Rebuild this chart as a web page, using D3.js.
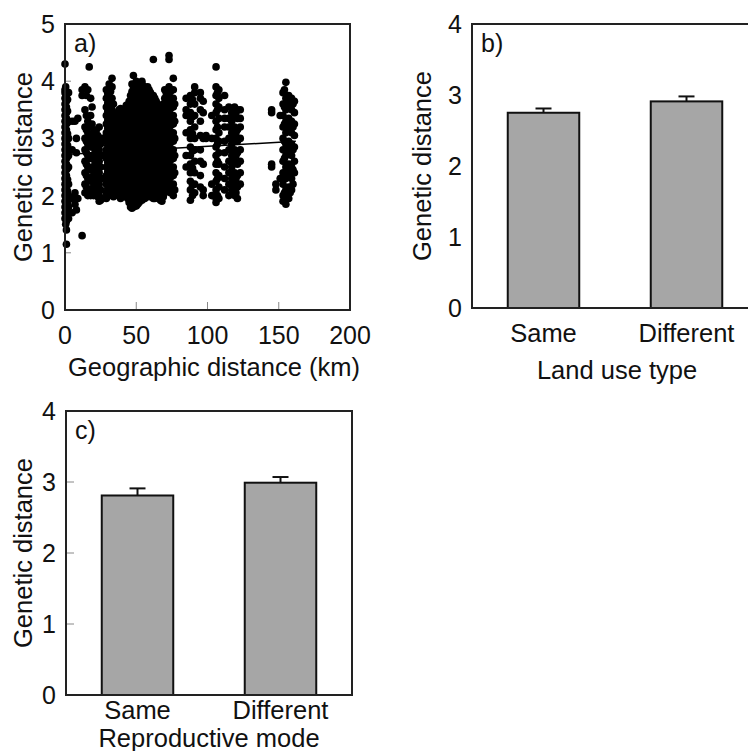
<!DOCTYPE html>
<html><head><meta charset="utf-8">
<script src="https://cdn.jsdelivr.net/npm/d3@7"></script>
<style>body{margin:0;background:#fff}svg{display:block}text{font-family:"Liberation Sans",Arial,sans-serif;fill:#111}</style>
</head><body>
<svg id="c" width="748" height="751"></svg>
<script>
// ---- Panel a data: columns of points (geographic distance km, genetic distance values)
const scatterX = [0,1,2.5,5,7,8,9,12,14,16,17,18,20,22,24,26,29,31,33,36,38,40,42,44,46,48,50,52,54,56,58,60,62,64,66,68,70,73,76,85,88,91,95,97,99,103,106,108,112,115,117,119,121,123,145,148,151,153,155,157,159,161,
  0.5,1.8,15,19,21,23,25,30,32,34,35,37,39,41,43,45,47,49,51,53,55,57,59,61,63,65,67,69,71,74,77,89.5,107,120,154,156,158,160];
const scatterY = [
 [4.30,3.85,3.80,3.70,3.60,3.50,3.40,3.30,3.20,3.10,3.00,2.90,2.80,2.70,2.60,2.50,2.40,2.30,2.20,2.10,2.00,1.90,1.80,1.70,1.60],
 [3.75,3.65,3.55,3.45,3.35,3.25,3.15,3.05,2.95,2.85,2.75,2.65,2.55,2.45,2.35,2.25,2.15,2.05,1.95,1.85,1.75,1.65,1.55,1.40,1.15],
 [3.80,3.30,3.00,2.70,2.50,2.20,2.00,1.80,1.60],
 [3.30,2.80,1.95,1.70],
 [3.30,2.05,1.85],
 [3.00,1.75,2.75],
 [1.95,3.35],
 [1.30,3.85,3.75],
 [3.90,3.50,3.20,3.00,2.80,2.60,2.40,2.20,2.05],
 [3.85,3.30,3.10,2.90,2.70,2.50,2.30,2.10,2.00],
 [4.25],
 [3.70,3.40,3.20,3.00,2.85,2.65,2.45,2.25,2.00],
 [3.10,2.90,2.70,2.50,2.35,2.15,2.00],
 [3.15,2.95,2.75,2.55,2.40,2.20,2.05],
 [3.20,3.00,2.80,2.60,2.40,2.20,2.00,1.90],
 [3.00,2.70,2.30,1.95],
 [3.85,3.70,3.55,3.40,3.25,3.10,2.95,2.80,2.65,2.50,2.35,2.20,2.05,1.95],
 [3.95,3.75,3.60,3.45,3.30,3.15,3.00,2.85,2.70,2.55,2.40,2.25,2.10,2.00],
 [4.05,3.90,3.70,3.50,3.35,3.20,3.05,2.90,2.75,2.60,2.45,2.30,2.15,2.05],
 [3.40,3.25,3.10,2.95,2.80,2.65,2.50,2.35,2.20,2.05],
 [3.50,3.35,3.20,3.05,2.90,2.75,2.60,2.45,2.30,2.15,2.00],
 [3.45,3.30,3.15,3.00,2.85,2.70,2.55,2.40,2.25,2.10,2.00],
 [3.50,3.35,3.20,3.05,2.90,2.75,2.60,2.45,2.30,2.15,2.00],
 [3.55,3.40,3.25,3.10,2.95,2.80,2.65,2.50,2.35,2.20,2.05,1.95],
 [3.75,3.60,3.45,3.30,3.15,3.00,2.85,2.70,2.55,2.40,2.25,2.10,1.95,1.80],
 [4.10,3.90,3.75,3.60,3.45,3.30,3.15,3.00,2.85,2.70,2.55,2.40,2.25,2.10,1.95,1.80],
 [4.00,3.85,3.70,3.55,3.40,3.25,3.10,2.95,2.80,2.65,2.50,2.35,2.20,2.05,1.90,1.82],
 [3.95,3.80,3.65,3.50,3.35,3.20,3.05,2.90,2.75,2.60,2.45,2.30,2.15,2.00,1.88],
 [4.00,3.85,3.70,3.55,3.40,3.25,3.10,2.95,2.80,2.65,2.50,2.35,2.20,2.05,1.92],
 [3.85,3.70,3.55,3.40,3.25,3.10,2.95,2.80,2.65,2.50,2.35,2.20,2.05,1.95],
 [3.90,3.75,3.60,3.45,3.30,3.15,3.00,2.85,2.70,2.55,2.40,2.25,2.10,2.00],
 [3.80,3.65,3.50,3.35,3.20,3.05,2.90,2.75,2.60,2.45,2.30,2.15,2.00],
 [4.38,3.75,3.60,3.45,3.30,3.15,3.00,2.85,2.70,2.55,2.40,2.25,2.10,1.95],
 [3.65,3.50,3.35,3.20,3.05,2.90,2.75,2.60,2.45,2.30,2.15,2.00],
 [3.55,3.40,3.25,3.10,2.95,2.80,2.65,2.50,2.35,2.20,2.05,1.95],
 [3.50,3.35,3.20,3.05,2.90,2.75,2.60,2.45,2.30,2.15,2.00,1.90],
 [3.85,3.70,3.55,3.40,3.25,3.10,2.95,2.80,2.65,2.50,2.35,2.20,2.05],
 [4.45,4.38,3.90,3.75,3.60,3.45,3.30,3.15,3.00,2.85,2.70,2.55,2.40,2.25,2.10],
 [4.05,3.85,3.70,3.55,3.40,3.25,3.10,2.95,2.80,2.65,2.50,2.35,2.20,2.00],
 [3.70,3.50,3.40,3.10,2.70,2.50],
 [3.75,3.60,3.45,3.30,3.15,3.00,2.85,2.70,2.55,2.40,2.25,2.10,1.92],
 [3.90,3.80,3.60,3.40,3.20,3.00,2.80,2.60,2.40,2.20,2.05],
 [3.80,3.70,3.50,3.30,3.05,2.80,2.60,2.35,2.15],
 [3.65,3.45,3.00,2.55,2.10,2.00],
 [3.05,3.00],
 [3.40,3.00,2.20,2.00],
 [4.25,3.90,3.75,3.60,3.45,3.30,3.15,3.00,2.85,2.70,2.55,2.40,2.25,2.10,1.95,1.88],
 [3.85,3.70,3.55,3.35,3.10,2.95,2.75,2.55,2.35,2.15,1.95],
 [3.75,3.50,3.35,3.20,2.95,2.75,2.50,2.30,2.10],
 [3.55,3.35,3.20,3.00,2.80,2.60,2.40,2.20,2.00],
 [3.45,3.30,3.10,2.90,2.70,2.50,2.30,2.10],
 [3.55,3.40,3.20,3.00,2.80,2.60,2.40,2.20,2.00],
 [3.50,3.35,3.15,2.95,2.75,2.55,2.35,2.15,1.95],
 [3.50,3.35,3.20,3.00,2.80,2.60,2.40,2.20],
 [3.45,3.50,2.55,2.50],
 [2.20,2.10],
 [3.40,2.30],
 [3.80,3.60,3.40,3.20,3.00,2.80,2.60,2.40,2.20,2.00,1.90],
 [3.98,3.70,3.50,3.30,3.10,2.90,2.70,2.50,2.30,2.10,1.85],
 [3.75,3.55,3.35,3.15,2.95,2.75,2.55,2.35,2.15,1.95],
 [3.70,3.50,3.30,3.10,2.90,2.70,2.50,2.30,2.10],
 [3.65,3.45,3.25,3.05,2.85,2.60,2.40],
 // second set of columns (between the ones above)
 [3.90,3.72,3.52,3.32,3.12,2.92,2.72,2.52,2.32,2.12,1.92,1.72,1.50],
 [3.68,3.48,3.28,3.08,2.88,2.68,2.48,2.28,2.08,1.88,1.68],
 [3.75,3.40,3.15,2.95,2.75,2.55,2.35,2.15],
 [3.55,3.25,3.05,2.90,2.70,2.50,2.30,2.10],
 [3.00,2.80,2.60,2.45,2.25,2.05],
 [3.05,2.85,2.65,2.48,2.30,2.12,1.98],
 [2.90,2.50,2.10,1.92],
 [3.78,3.62,3.48,3.32,3.18,3.02,2.88,2.72,2.58,2.42,2.28,2.12,2.00],
 [3.82,3.68,3.52,3.38,3.22,3.08,2.92,2.78,2.62,2.48,2.32,2.18,2.05],
 [3.60,3.42,3.28,3.12,2.98,2.82,2.68,2.52,2.38,2.22,2.08,1.98],
 [3.30,3.18,3.02,2.88,2.72,2.58,2.42,2.28,2.12,2.00],
 [3.45,3.32,3.18,3.02,2.88,2.72,2.58,2.42,2.28,2.12,2.02],
 [3.52,3.38,3.22,3.08,2.92,2.78,2.62,2.48,2.32,2.18,2.05,1.95],
 [3.48,3.32,3.18,3.02,2.88,2.72,2.58,2.42,2.28,2.12,2.02],
 [3.58,3.42,3.28,3.12,2.98,2.82,2.68,2.52,2.38,2.22,2.08,1.98],
 [3.65,3.52,3.38,3.22,3.08,2.92,2.78,2.62,2.48,2.32,2.18,2.02,1.88],
 [3.95,3.82,3.68,3.52,3.38,3.22,3.08,2.92,2.78,2.62,2.48,2.32,2.18,2.02,1.88,1.78],
 [3.92,3.78,3.62,3.48,3.32,3.18,3.02,2.88,2.72,2.58,2.42,2.28,2.12,1.98,1.82],
 [3.90,3.78,3.62,3.48,3.32,3.18,3.02,2.88,2.72,2.58,2.42,2.28,2.12,1.98,1.85],
 [3.88,3.72,3.58,3.42,3.28,3.12,2.98,2.82,2.68,2.52,2.38,2.22,2.08,1.95],
 [3.92,3.78,3.62,3.48,3.32,3.18,3.02,2.88,2.72,2.58,2.42,2.28,2.12,1.98],
 [3.82,3.68,3.52,3.38,3.22,3.08,2.92,2.78,2.62,2.48,2.32,2.18,2.02],
 [3.85,3.72,3.58,3.42,3.28,3.12,2.98,2.82,2.68,2.52,2.38,2.22,2.08,1.98],
 [3.72,3.58,3.42,3.28,3.12,2.98,2.82,2.68,2.52,2.38,2.22,2.08,1.98],
 [3.70,3.58,3.42,3.28,3.12,2.98,2.82,2.68,2.52,2.38,2.22,2.08,1.95],
 [3.60,3.48,3.32,3.18,3.02,2.88,2.72,2.58,2.42,2.28,2.12,1.98],
 [3.52,3.38,3.22,3.08,2.92,2.78,2.62,2.48,2.32,2.18,2.02,1.92],
 [3.60,3.42,3.28,3.12,2.98,2.82,2.68,2.52,2.38,2.22,2.08,1.98],
 [3.80,3.62,3.48,3.32,3.18,3.02,2.88,2.72,2.58,2.42,2.28,2.12],
 [3.82,3.68,3.52,3.38,3.22,3.08,2.92,2.78,2.62,2.48,2.32,2.18,2.05],
 [3.60,3.30,3.00,2.70,2.40,2.10],
 [3.68,3.38,3.08,2.78,2.48,2.18,2.00],
 [3.80,3.50,3.20,2.90,2.60,2.30,2.00],
 [3.45,3.10,2.70,2.30,2.05],
 [3.85,3.55,3.25,2.95,2.65,2.35,2.05],
 [3.60,3.20,2.80,2.40,2.00],
 [3.65,3.25,2.85,2.45,2.05],
 [3.60,3.20,2.80,2.45,2.20]
];
const regX = [0, 162];
const regY = [2.72, 2.95];
const aXTicks = [0, 50, 100, 150, 200];
const aYTicks = [0, 1, 2, 3, 4, 5];

// ---- Panel b data
const landCats = ["Same", "Different"];
const landMeans = [2.75, 2.91];
const landErr = [0.06, 0.07];
// ---- Panel c data
const reproCats = ["Same", "Different"];
const reproMeans = [2.81, 2.99];
const reproErr = [0.10, 0.08];
const barYTicks = [0, 1, 2, 3, 4];

const svg = d3.select("#c");
const FS = 25;   // tick labels
const LS = 25.5; // axis titles

// ================= Panel a =================
const xa = d3.scaleLinear().domain([0, 200]).range([65, 350]);
const ya = d3.scaleLinear().domain([0, 5]).range([310, 24]);
const ga = svg.append("g");
ga.selectAll(".ty").data(aYTicks.slice(1, -1)).join("line")
  .attr("x1", xa(0)).attr("x2", xa(0) + 6).attr("y1", d => ya(d)).attr("y2", d => ya(d))
  .attr("stroke", "#888").attr("stroke-width", 1);
ga.selectAll(".tx").data(aXTicks.slice(1, -1)).join("line")
  .attr("x1", d => xa(d)).attr("x2", d => xa(d)).attr("y1", ya(0)).attr("y2", ya(0) - 8)
  .attr("stroke", "#888").attr("stroke-width", 1);
const pts = [];
scatterX.forEach((x, i) => scatterY[i].forEach(y => pts.push([x, y])));
ga.append("g").selectAll("circle").data(pts).join("circle")
  .attr("cx", d => xa(d[0])).attr("cy", d => ya(d[1])).attr("r", 3.8).attr("fill", "#000");
ga.append("line").attr("x1", xa(regX[0])).attr("x2", xa(regX[1]))
  .attr("y1", ya(regY[0])).attr("y2", ya(regY[1])).attr("stroke", "#000").attr("stroke-width", 1.5);
ga.append("rect").attr("x", xa(0)).attr("y", ya(5)).attr("width", xa(200) - xa(0)).attr("height", ya(0) - ya(5))
  .attr("fill", "none").attr("stroke", "#222").attr("stroke-width", 2);
ga.selectAll(".lx").data(aXTicks).join("text")
  .attr("x", d => xa(d)).attr("y", 344).attr("text-anchor", "middle").attr("font-size", FS).text(d => d);
ga.selectAll(".ly").data(aYTicks).join("text")
  .attr("x", 55).attr("y", d => ya(d) + 9).attr("text-anchor", "end").attr("font-size", FS).text(d => d);
ga.append("text").attr("x", 214).attr("y", 376).attr("text-anchor", "middle").attr("font-size", LS).text("Geographic distance (km)");
ga.append("text").attr("transform", "translate(32,167) rotate(-90)").attr("text-anchor", "middle").attr("font-size", LS).text("Genetic distance");
ga.append("text").attr("x", 74).attr("y", 52).attr("font-size", FS).text("a)");

// ================= bar panels =================
function barPanel(cats, means, errs, left, right, top, bottom, tag, xlabel, showTicks, opts) {
  const x = d3.scaleBand().domain(cats).range([left, right]).paddingInner(0.5).paddingOuter(0.25);
  const y = d3.scaleLinear().domain([0, 4]).range([bottom, top]);
  const g = svg.append("g");
  if (showTicks) {
    g.selectAll(".t").data(barYTicks.slice(1, -1)).join("line")
      .attr("x1", left).attr("x2", left + 8).attr("y1", d => y(d)).attr("y2", d => y(d))
      .attr("stroke", "#888").attr("stroke-width", 1);
  }
  cats.forEach((c, i) => {
    const cx = x(c) + x.bandwidth() / 2;
    g.append("line").attr("x1", cx).attr("x2", cx).attr("y1", y(means[i])).attr("y2", y(means[i] + errs[i]))
      .attr("stroke", "#111").attr("stroke-width", 2);
    g.append("line").attr("x1", cx - 8).attr("x2", cx + 8).attr("y1", y(means[i] + errs[i])).attr("y2", y(means[i] + errs[i]))
      .attr("stroke", "#111").attr("stroke-width", 2);
  });
  g.selectAll("rect.bar").data(cats).join("rect").attr("class", "bar")
    .attr("x", d => x(d)).attr("width", x.bandwidth())
    .attr("y", (d, i) => y(means[i])).attr("height", (d, i) => bottom - y(means[i]))
    .attr("fill", "#a6a6a6").attr("stroke", "#111").attr("stroke-width", 2);
  g.append("rect").attr("x", left).attr("y", top).attr("width", right - left).attr("height", bottom - top)
    .attr("fill", "none").attr("stroke", "#222").attr("stroke-width", 2);
  g.selectAll(".ly").data(barYTicks).join("text")
    .attr("x", left - 10).attr("y", d => y(d) + 9).attr("text-anchor", "end").attr("font-size", FS).text(d => d);
  g.selectAll(".lx").data(cats).join("text")
    .attr("x", d => x(d) + x.bandwidth() / 2).attr("y", opts.catY).attr("text-anchor", "middle").attr("font-size", LS).text(d => d);
  g.append("text").attr("x", opts.titleX).attr("y", opts.titleY).attr("text-anchor", "middle").attr("font-size", LS).text(xlabel);
  g.append("text").attr("transform", `translate(${opts.ylabX},${(top + bottom) / 2}) rotate(-90)`)
    .attr("text-anchor", "middle").attr("font-size", LS).text("Genetic distance");
  g.append("text").attr("x", left + 9).attr("y", top + 28).attr("font-size", FS).text(tag);
}

barPanel(landCats, landMeans, landErr, 472, 758, 24, 308, "b)", "Land use type", false,
  { catY: 342, titleX: 617, titleY: 379, ylabX: 431 });
barPanel(reproCats, reproMeans, reproErr, 66, 352, 411, 695, "c)", "Reproductive mode", true,
  { catY: 719, titleX: 209, titleY: 747, ylabX: 32 });
</script>
</body></html>
